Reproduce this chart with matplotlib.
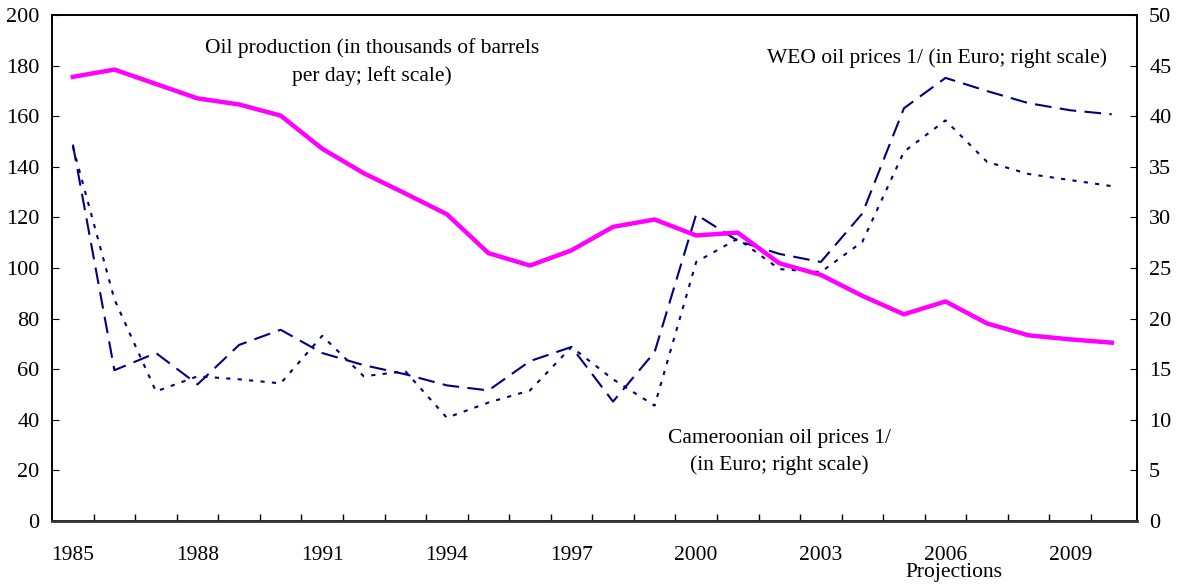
import numpy as np
import matplotlib.pyplot as plt
from matplotlib.ticker import FixedLocator, MultipleLocator

plt.rcParams['font.family'] = ['Liberation Serif', 'DejaVu Serif']

# Данные
years = list(range(1985, 2011))
oil_production = [175.6, 178.5, 172.8, 167.1, 164.7, 160.3, 147.2, 137.5, 129.5, 121.3,
                  105.9, 101.0, 107.0, 116.3, 119.2, 112.9, 114.0, 101.9, 97.3, 89.0,
                  81.7, 86.8, 78.1, 73.4, 71.8, 70.5]
weo_prices = [37.2, 14.9, 16.6, 13.5, 17.4, 18.9, 16.6, 15.4, 14.5, 13.4,
              12.9, 15.8, 17.2, 11.8, 16.7, 30.3, 27.7, 26.4, 25.6, 30.4,
              40.8, 43.8, 42.5, 41.3, 40.6, 40.2]
cameroon_prices = [37.0, 21.9, 12.8, 14.3, 14.0, 13.6, 18.3, 14.3, 14.8, 10.2,
                   11.7, 12.9, 17.2, 14.0, 11.4, 25.6, 27.9, 24.9, 24.6, 27.6,
                   36.5, 39.6, 35.5, 34.3, 33.7, 33.1]
label_years = [1985, 1988, 1991, 1994, 1997, 2000, 2003, 2006, 2009]

fig = plt.figure(figsize=(11.84, 5.84), dpi=100)
ax = fig.add_axes([0.044, 0.108, 0.916, 0.866])
ax2 = ax.twinx()

ax2.plot(years, weo_prices, color='#000080', lw=1.5, dashes=(8, 4))
ax2.plot(years, cameroon_prices, color='#000080', lw=1.5, dashes=(2, 3.5))
ax.plot(years, oil_production, color='#FF00FF', lw=3.2)
ax.set_zorder(ax2.get_zorder() + 1)
ax.patch.set_visible(False)

ax.set_xlim(1984.5, 2010.6)
ax.set_ylim(0, 200)
ax2.set_ylim(0, 50)
ax.yaxis.set_major_locator(MultipleLocator(20))
ax2.yaxis.set_major_locator(MultipleLocator(5))

ax.xaxis.set_major_locator(FixedLocator(label_years))
ax.xaxis.set_minor_locator(FixedLocator(np.arange(1985.5, 2010.5, 1)))
ax.tick_params(axis='x', which='major', length=0, pad=18, labelsize=15.5)
ax.tick_params(axis='x', which='minor', direction='in', length=5, width=1)
ax.tick_params(axis='y', direction='in', length=5, pad=9, labelsize=16)
ax2.tick_params(axis='y', direction='in', length=5, pad=9, labelsize=16)
ax2.tick_params(axis='x', length=0)

for a in (ax, ax2):
    for s in a.spines.values():
        s.set_linewidth(1.2)
ax.spines['bottom'].set_linewidth(2)
ax.spines['bottom'].set_color('#333333')

ax.text(1992.2, 181.5, 'Oil production (in thousands of barrels\nper day; left scale)',
        ha='center', va='center', fontsize=15.5, linespacing=1.55)
ax2.text(2005.8, 45.8, 'WEO oil prices 1/ (in Euro; right scale)',
         ha='center', va='center', fontsize=15.5)
ax2.text(2002.0, 6.8, 'Cameroonian oil prices 1/\n(in Euro; right scale)',
         ha='center', va='center', fontsize=15.5, linespacing=1.5)
ax.annotate('Projections', xy=(2006.2, 0), xycoords=('data', 'axes fraction'),
            xytext=(0, -37), textcoords='offset points', ha='center', va='center',
            fontsize=15.5, annotation_clip=False)

fig.savefig('out.png', dpi=100)
